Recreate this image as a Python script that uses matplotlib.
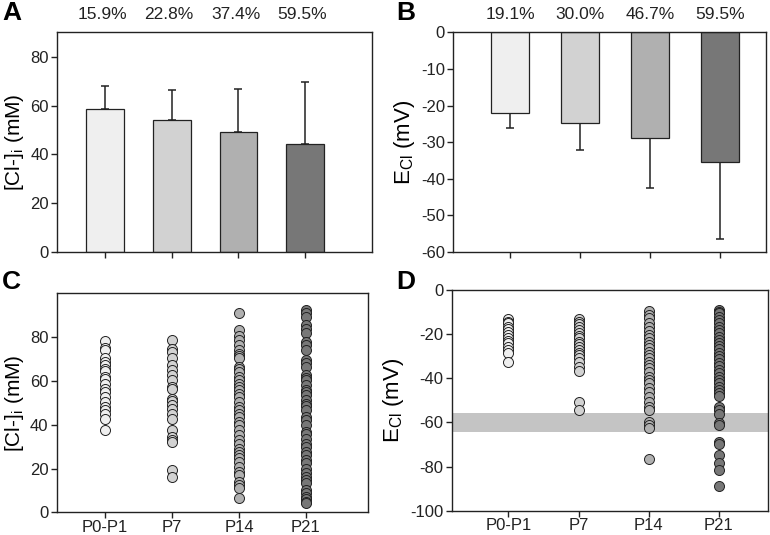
import matplotlib
matplotlib.use("Agg")
import matplotlib.pyplot as plt

plt.rcParams['font.family'] = ['Liberation Sans', 'DejaVu Sans']
plt.rcParams['mathtext.fontset'] = 'custom'
plt.rcParams['mathtext.rm'] = 'Liberation Sans'
plt.rcParams['mathtext.it'] = 'Liberation Sans:italic'
plt.rcParams['axes.linewidth'] = 1.0
plt.rcParams['axes.unicode_minus'] = False

# ---- data ----
groups = ["P0-P1", "P7", "P14", "P21"]
colors = ["#efefef", "#d2d2d2", "#b0b0b0", "#777777"]

cl_mean = [58.7, 54.1, 49.0, 44.4]
cl_top = [68.0, 66.5, 66.6, 69.8]
cl_pct = ["15.9%", "22.8%", "37.4%", "59.5%"]

ecl_mean = [-22.0, -24.7, -28.9, -35.4]
ecl_bottom = [-26.2, -32.2, -42.5, -56.4]
ecl_pct = ["19.1%", "30.0%", "46.7%", "59.5%"]

c_p0 = [78.4, 75.1, 73.9, 70.6, 68.6, 67.4, 65.6, 64.5, 62.0, 61.0, 58.7, 56.4,
        54.9, 52.7, 50.4, 48.1, 46.6, 44.8, 42.8, 37.8]
c_p7 = [78.8, 74.7, 73.1, 70.6, 67.4, 64.8, 62.5, 60.2, 57.2, 56.1, 51.9, 50.8,
        48.9, 47.3, 44.8, 42.8, 37.5, 34.4, 32.9, 32.2, 19.3, 16.2]
c_p14 = [91.0, 83.3, 80.7, 78.5, 76.2, 73.9, 72.4, 71.2, 70.6, 66.3, 65.6, 64.0,
         62.0, 60.2, 58.7, 57.2, 55.7, 54.2, 52.7, 50.4, 48.1, 46.6, 45.1, 43.6,
         41.3, 39.8, 37.5, 35.2, 32.9, 31.4, 29.1, 27.6, 26.1, 24.6, 23.1, 20.8,
         18.5, 17.0, 14.0, 12.4, 10.9, 6.7]
c_p21 = [92.4, 90.9, 89.1, 85.3, 83.8, 81.8, 77.7, 76.6, 74.2, 69.7, 68.1, 66.3,
         62.5, 61.5, 60.2, 58.0, 55.7, 54.9, 53.4, 51.1, 49.6, 48.4, 46.6, 43.6,
         42.0, 39.8, 36.7, 35.7, 33.7, 31.4, 29.9, 27.6, 26.1, 23.8, 22.3, 20.0,
         17.8, 16.2, 14.7, 13.2, 10.2, 8.6, 7.1, 5.9, 4.9, 4.1]

d_p0 = [-13.3, -14.4, -15.1, -16.6, -17.8, -18.9, -20.4, -21.9, -23.0, -24.2,
        -26.0, -27.2, -28.7, -32.5]
d_p7 = [-13.3, -14.4, -15.4, -16.6, -18.1, -19.6, -20.8, -21.9, -23.4, -24.5,
        -25.7, -27.2, -28.4, -29.5, -31.0, -32.5, -34.7, -36.6, -50.6, -54.4]
d_p14 = [-9.4, -11.3, -12.8, -14.8, -16.6, -18.4, -20.4, -21.9, -23.4, -24.9,
         -26.4, -27.9, -29.5, -31.0, -32.5, -34.0, -35.5, -37.0, -39.6, -40.8,
         -42.3, -44.6, -46.1, -48.3, -50.6, -52.9, -54.4, -59.7, -61.2, -62.7,
         -76.7]
d_p21 = [-9.1, -9.8, -10.6, -12.1, -13.6, -14.8, -16.6, -18.1, -19.6, -21.1,
         -22.7, -24.2, -25.4, -26.9, -28.4, -29.9, -31.4, -32.9, -34.4, -36.3,
         -37.8, -39.3, -40.8, -42.3, -43.8, -45.3, -46.8, -48.0, -52.9, -54.4,
         -56.2, -60.4, -61.2, -68.7, -69.8, -74.8, -78.5, -81.6, -88.8]

band = (-64.5, -55.6)

c_data = [c_p0, c_p7, c_p14, c_p21]
d_data = [d_p0, d_p7, d_p14, d_p21]

fig = plt.figure(figsize=(7.7, 5.35), dpi=100)
axA = fig.add_axes([0.074, 0.529, 0.409, 0.4106])
axB = fig.add_axes([0.5887, 0.529, 0.4061, 0.4106])
axC = fig.add_axes([0.0736, 0.0424, 0.4047, 0.4094])
axD = fig.add_axes([0.5866, 0.0454, 0.4104, 0.4125])

x = [1, 2, 3, 4]
tick_kw = dict(labelsize=12, length=4, width=1, direction='out', colors='#222222', pad=2)
ylab_fs = 15

# Panel A
axA.bar(x, cl_mean, width=0.565, color=colors, edgecolor='#222222', linewidth=0.9, zorder=2)
axA.errorbar(x, cl_mean, yerr=[[0]*4, [t - m for t, m in zip(cl_top, cl_mean)]],
             fmt='none', ecolor='#222222', elinewidth=1.1, capsize=3, capthick=1.1, zorder=1)
axA.set_xlim(0.28, 5.0)
axA.set_ylim(0, 90)
axA.set_yticks([0, 20, 40, 60, 80])
axA.set_xticks(x)
axA.set_xticklabels([])
axA.tick_params(**tick_kw)
axA.set_ylabel('[Cl-]$_\\mathrm{i}$ (mM)', fontsize=ylab_fs, labelpad=3)
for xi, p in zip(x, cl_pct):
    axA.text(xi - 0.04, 1.083, p, transform=axA.get_xaxis_transform(), ha='center',
             va='center', fontsize=12.5, color='#222222')

# Panel B
axB.bar(x, ecl_mean, width=0.54, color=colors, edgecolor='#222222', linewidth=0.9, zorder=2)
axB.errorbar(x, ecl_mean, yerr=[[m - b for b, m in zip(ecl_bottom, ecl_mean)], [0]*4],
             fmt='none', ecolor='#222222', elinewidth=1.1, capsize=3, capthick=1.1, zorder=1)
axB.set_xlim(0.19, 4.66)
axB.set_ylim(-60, 0)
axB.set_yticks([-60, -50, -40, -30, -20, -10, 0])
axB.set_xticks(x)
axB.set_xticklabels([])
axB.tick_params(**tick_kw)
axB.set_ylabel('E$_\\mathrm{Cl}$ (mV)', fontsize=16, labelpad=3)
for xi, p in zip(x, ecl_pct):
    axB.text(xi, 1.083, p, transform=axB.get_xaxis_transform(), ha='center',
             va='center', fontsize=12.5, color='#222222')

# Panel C
for xi, vals, col in zip(x, c_data, colors):
    axC.scatter([xi]*len(vals), vals, s=52, color=col, edgecolors='#222222',
                linewidths=0.7, zorder=3)
axC.set_xlim(0.28, 4.93)
axC.set_ylim(0, 100)
axC.set_yticks([0, 20, 40, 60, 80])
axC.set_xticks(x)
axC.set_xticklabels(groups)
axC.tick_params(**tick_kw)
axC.tick_params(axis='x', pad=1.5)
axC.set_ylabel('[Cl-]$_\\mathrm{i}$ (mM)', fontsize=ylab_fs, labelpad=3)

# Panel D
axD.axhspan(band[0], band[1], color='#c4c4c4', lw=0, zorder=1)
for xi, vals, col in zip(x, d_data, colors):
    axD.scatter([xi]*len(vals), vals, s=52, color=col, edgecolors='#222222',
                linewidths=0.7, zorder=3)
axD.set_xlim(0.19, 4.70)
axD.set_ylim(-100, 0)
axD.set_yticks([-100, -80, -60, -40, -20, 0])
axD.set_xticks(x)
axD.set_xticklabels(groups)
axD.tick_params(**tick_kw)
axD.tick_params(axis='x', pad=1.5)
axD.set_ylabel('E$_\\mathrm{Cl}$ (mV)', fontsize=16, labelpad=3)

for ax in (axA, axB, axC, axD):
    for sp in ax.spines.values():
        sp.set_color('#222222')

# panel letters
fig.text(0.003, 0.975, 'A', fontsize=19, fontweight='bold', va='center', ha='left')
fig.text(0.514, 0.975, 'B', fontsize=19, fontweight='bold', va='center', ha='left')
fig.text(0.003, 0.473, 'C', fontsize=19, fontweight='bold', va='center', ha='left')
fig.text(0.514, 0.473, 'D', fontsize=19, fontweight='bold', va='center', ha='left')

fig.savefig('out.png', dpi=100)
